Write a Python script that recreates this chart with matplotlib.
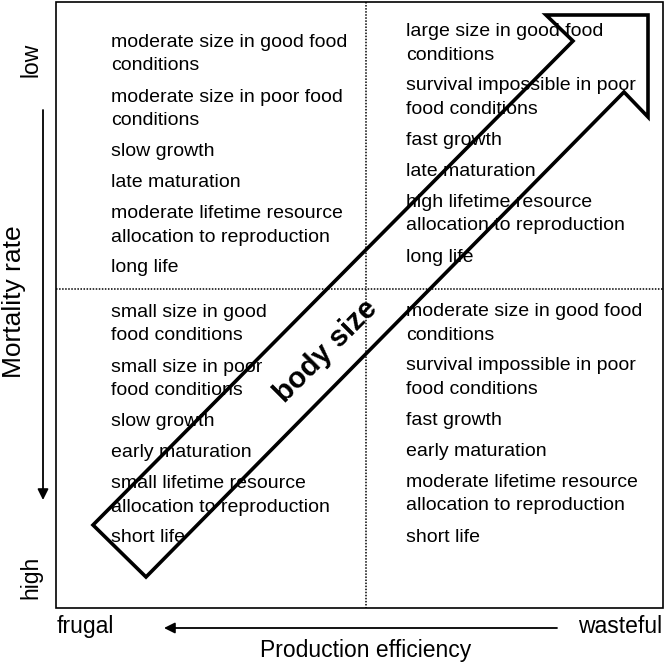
import matplotlib
matplotlib.use("Agg")
import matplotlib.pyplot as plt
from matplotlib.patches import Polygon, Rectangle

plt.rcParams['font.family'] = ['Liberation Sans', 'DejaVu Sans']

# quadrant contents (each item is a list of lines)
top_left = [["moderate size in good food", "conditions"],
            ["moderate size in poor food", "conditions"],
            ["slow growth"],
            ["late maturation"],
            ["moderate lifetime resource", "allocation to reproduction"],
            ["long life"]]
top_right = [["large size in good food", "conditions"],
             ["survival impossible in poor", "food conditions"],
             ["fast growth"],
             ["late maturation"],
             ["high lifetime resource", "allocation to reproduction"],
             ["long life"]]
bottom_left = [["small size in good", "food conditions"],
               ["small size in poor", "food conditions"],
               ["slow growth"],
               ["early maturation"],
               ["small lifetime resource", "allocation to reproduction"],
               ["short life"]]
bottom_right = [["moderate size in good food", "conditions"],
                ["survival impossible in poor", "food conditions"],
                ["fast growth"],
                ["early maturation"],
                ["moderate lifetime resource", "allocation to reproduction"],
                ["short life"]]

y_label = "Mortality rate"
x_label = "Production efficiency"
y_ends = ["low", "high"]
x_ends = ["frugal", "wasteful"]
arrow_label = "body size"

# outline of the big hollow arrow (pixel coords of the diagram)
arrow_outline = [(93, 525), (573, 41), (546, 15), (648, 15),
                 (648, 117), (624, 92), (146, 577)]

fig = plt.figure(figsize=(6.65, 6.63), dpi=100)
ax = fig.add_axes([0, 0, 1, 1])
ax.set_xlim(0, 665)
ax.set_ylim(663, 0)
ax.axis("off")

# frame and dotted quadrant dividers
ax.add_patch(Rectangle((56, 2), 607, 606, fill=False, lw=1.2, ec="black"))
ax.plot([366, 366], [2, 608], color="black", lw=1.1, ls=(0, (1, 1)))
ax.plot([56, 663], [289, 289], color="black", lw=1.1, ls=(0, (1, 1)))

fs = 14
line_gap = 23.5
item_gap = 31


def write_items(items, x, y0):
    y = y0
    for item in items:
        for k, line in enumerate(item):
            ax.text(x, y + k * line_gap, line, fontsize=fs, va="baseline", ha="left")
        y += (len(item) - 1) * line_gap + item_gap


write_items(top_left, 111, 47)
write_items(top_right, 406, 36)
write_items(bottom_left, 111, 317)
write_items(bottom_right, 406, 316)

# the body size arrow
ax.add_patch(Polygon(arrow_outline, closed=True, fill=False, ec="black",
                     lw=2.6, joinstyle="miter"))
ax.text(326, 351, arrow_label, fontsize=21, fontweight="bold", rotation=45,
        ha="center", va="center")

# axis labels and end labels
ax.text(14, 302, y_label, fontsize=19, rotation=90, ha="center", va="center")
ax.text(31, 60, y_ends[0], fontsize=16.5, rotation=90, ha="center", va="center")
ax.text(31, 577, y_ends[1], fontsize=16.5, rotation=90, ha="center", va="center")
ax.annotate("", xy=(43, 500), xytext=(43, 110),
            arrowprops=dict(arrowstyle="-|>", color="black", lw=1.3,
                            mutation_scale=16, shrinkA=0, shrinkB=0))

ax.text(57, 633, x_ends[0], fontsize=16.5, ha="left", va="baseline")
ax.text(662, 633, x_ends[1], fontsize=16.5, ha="right", va="baseline")
ax.annotate("", xy=(164, 628), xytext=(557, 628),
            arrowprops=dict(arrowstyle="-|>", color="black", lw=1.3,
                            mutation_scale=16, shrinkA=0, shrinkB=0))
ax.text(366, 651, x_label, fontsize=16.5, ha="center", va="center")

fig.savefig("out.png", dpi=100, facecolor="white")
